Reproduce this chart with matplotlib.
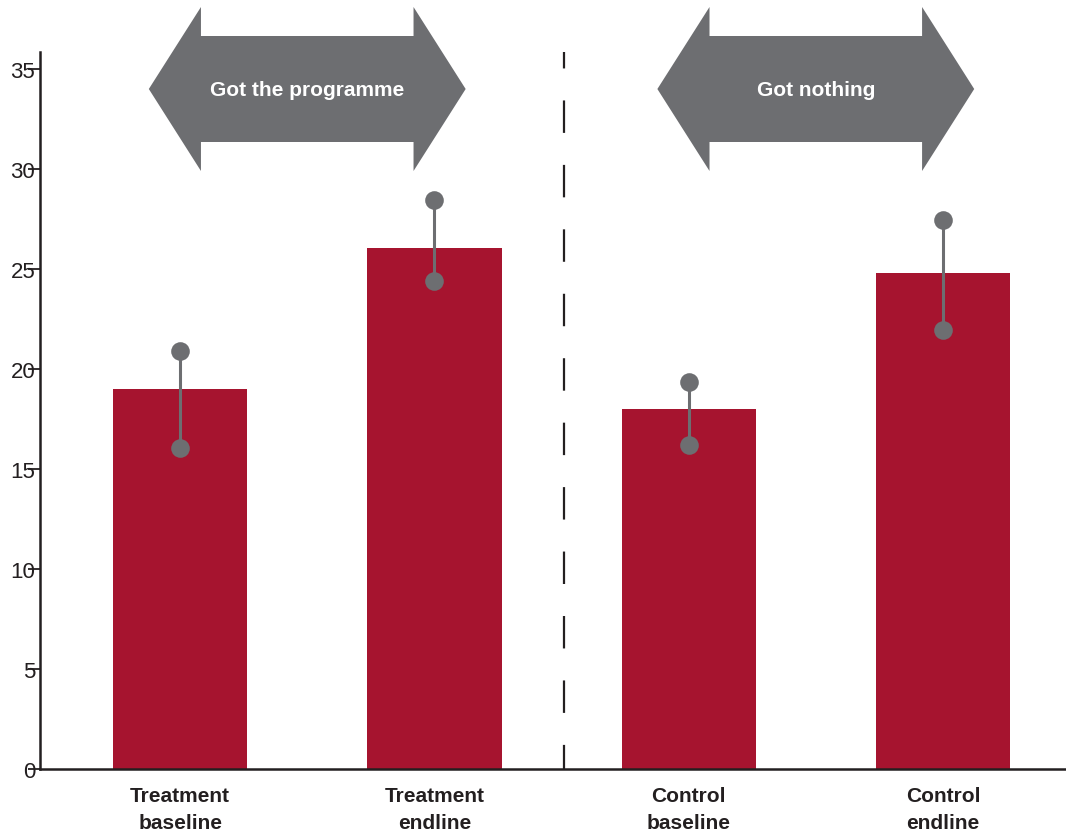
import numpy as np
import matplotlib
matplotlib.use("Agg")
import matplotlib.pyplot as plt
from matplotlib.patches import Polygon

plt.rcParams['font.family'] = ['Liberation Sans', 'DejaVu Sans']

categories = ["Treatment\nbaseline", "Treatment\nendline", "Control\nbaseline", "Control\nendline"]
means = [19.0, 26.05, 18.0, 24.8]
upper = [20.9, 28.45, 19.35, 27.45]
lower = [16.05, 24.4, 16.2, 21.95]
yticks = [0, 5, 10, 15, 20, 25, 30, 35]

arrow_labels = ["Got the programme", "Got nothing"]
arrow_centers = [0.5, 2.5]

bar_color = "#a6142f"
grey = "#6d6e71"
dark = "#231f20"

fig = plt.figure(figsize=(10.66, 8.37), dpi=100)
ax = fig.add_axes([40 / 1066, 67 / 837, 1026 / 1066, 717.5 / 837])

x = np.arange(len(categories))
ax.bar(x, means, width=0.528, color=bar_color, zorder=2)

for xi, lo, hi in zip(x, lower, upper):
    ax.plot([xi, xi], [lo, hi], color=grey, lw=2.2, zorder=3)
ax.scatter(x, upper, s=180, color=grey, zorder=4, linewidths=0)
ax.scatter(x, lower, s=180, color=grey, zorder=4, linewidths=0)

# dashed divider
ax.plot([1.51, 1.51], [35.85, 0], color=dark, lw=1.6,
        linestyle=(7.2, (14.6, 14.4)), dash_capstyle='butt', zorder=1, clip_on=False)


def double_arrow(ax, xc, label):
    half = 0.623
    head = 0.205
    yc, bh, hh = 34.0, 2.65, 4.1
    pts = [
        (xc - half, yc),
        (xc - half + head, yc + hh),
        (xc - half + head, yc + bh),
        (xc + half - head, yc + bh),
        (xc + half - head, yc + hh),
        (xc + half, yc),
        (xc + half - head, yc - hh),
        (xc + half - head, yc - bh),
        (xc - half + head, yc - bh),
        (xc - half + head, yc - hh),
    ]
    ax.add_patch(Polygon(pts, closed=True, facecolor=grey, edgecolor='none',
                         clip_on=False, zorder=5))
    ax.text(xc, yc, label, ha='center', va='center', color='white',
            fontsize=15, fontweight='bold', zorder=6, clip_on=False)


for xc, lab in zip(arrow_centers, arrow_labels):
    double_arrow(ax, xc, lab)

ax.set_xlim(-0.551, 3.484)
ax.set_ylim(0, 35.875)
ax.set_yticks(yticks)
ax.set_yticklabels([str(t) for t in yticks], fontsize=16, color=dark)
ax.set_xticks(x)
ax.set_xticklabels(categories, fontsize=15, fontweight='bold', color=dark, linespacing=1.55)
ax.tick_params(axis='y', direction='out', length=8.5, width=1.3, color=dark, pad=-5)
ax.tick_params(axis='x', length=0, pad=12)

for s in ['top', 'right']:
    ax.spines[s].set_visible(False)
for s in ['left', 'bottom']:
    ax.spines[s].set_color(dark)
    ax.spines[s].set_linewidth(1.8)

fig.savefig("out.png", dpi=100)
